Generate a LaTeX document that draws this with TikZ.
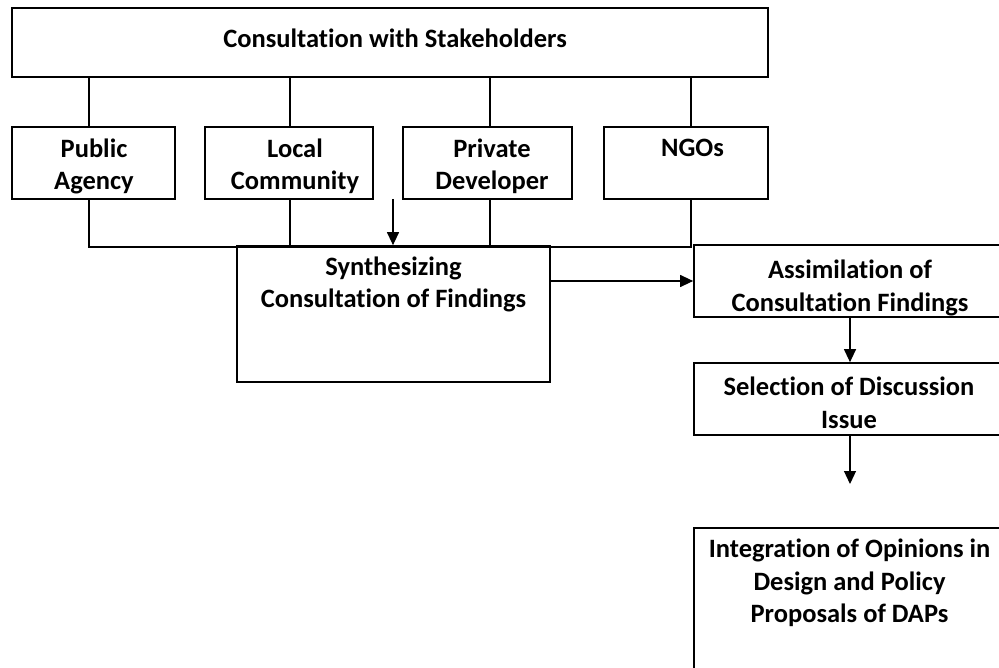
\documentclass[tikz,border=0pt]{standalone}
\usepackage{fontspec}
\setmainfont[Ligatures={NoCommon}]{Carlito}
\usetikzlibrary{arrows.meta}
\begin{document}
\begin{tikzpicture}[x=1pt,y=-1pt,
  box/.style={draw=black,line width=1.7pt,rectangle,inner sep=0pt},
  lbl/.style={align=center,inner sep=0pt,font=\fontsize{26.5}{32.5}\selectfont\bfseries},
  conn/.style={draw=black,line width=1.7pt},
  arr/.style={draw=black,line width=1.2pt,-{Triangle[width=12pt,length=13pt]}}]
\useasboundingbox (0,0) rectangle (999,668);
\clip (0,0) rectangle (999,668);
\fill[white] (0,0) rectangle (999,668);
% boxes
\node[box,minimum width=756pt,minimum height=69pt] (top) at (390,42.5) {};
\node[box,minimum width=163pt,minimum height=72pt] (pa) at (93.5,163) {};
\node[box,minimum width=168pt,minimum height=72pt] (lc) at (289,163) {};
\node[box,minimum width=169pt,minimum height=72pt] (pd) at (487.5,163) {};
\node[box,minimum width=164pt,minimum height=72pt] (ngo) at (686,163) {};
\node[box,minimum width=313pt,minimum height=136pt] (syn) at (393.5,314) {};
\node[box,minimum width=316pt,minimum height=72pt] (asm) at (852,281) {};
\node[box,minimum width=316pt,minimum height=72pt] (sel) at (852,399) {};
\node[box,minimum width=316pt,minimum height=162pt] (intg) at (852,609) {};
% texts
\node[lbl] (ttop) at (395,38) {Consultation with Stakeholders};
\node[lbl] (tpa) at (94,166.5) {Public\\Agency};
\node[lbl] (tlc) at (295,166.5) {Local\\Community};
\node[lbl] (tpd) at (492,166.5) {Private\\Developer};
\node[lbl] (tngo) at (692.5,148) {NGOs};
\node[lbl] (tsyn) at (393.5,284.5) {Synthesizing\\Consultation of Findings};
\node[lbl] (tasm) at (850,288) {Assimilation of\\Consultation Findings};
\node[lbl] (tsel) at (849,403) {Selection of Discussion\\Issue};
\node[lbl] (tintg) at (849.5,583) {Integration of Opinions in\\Design and Policy\\Proposals of DAPs};
% junctions on the collecting line
\coordinate (j1) at (89,247);
\coordinate (j2) at (290,247);
\coordinate (j3) at (490,247);
\coordinate (j4) at (691,247);
\coordinate (astart) at (393,199);
\coordinate (aend) at (850,484);
% tree connectors
\draw[conn] (top.south -| j1) -- (pa.north -| j1);
\draw[conn] (top.south -| j2) -- (lc.north -| j2);
\draw[conn] (top.south -| j3) -- (pd.north -| j3);
\draw[conn] (top.south -| j4) -- (ngo.north -| j4);
\draw[conn] (pa.south -| j1) -- (j1);
\draw[conn] (lc.south -| j2) -- (j2);
\draw[conn] (pd.south -| j3) -- (j3);
\draw[conn] (ngo.south -| j4) -- (j4);
\draw[conn,line cap=rect] (j1) -- (j4);
% arrows
\draw[arr] (astart) -- (syn.north -| astart);
\draw[arr] (syn.east |- asm.west) -- (asm.west);
\draw[arr] (asm.south -| aend) -- (sel.north -| aend);
\draw[arr] (sel.south -| aend) -- (aend);
\end{tikzpicture}
\end{document}
